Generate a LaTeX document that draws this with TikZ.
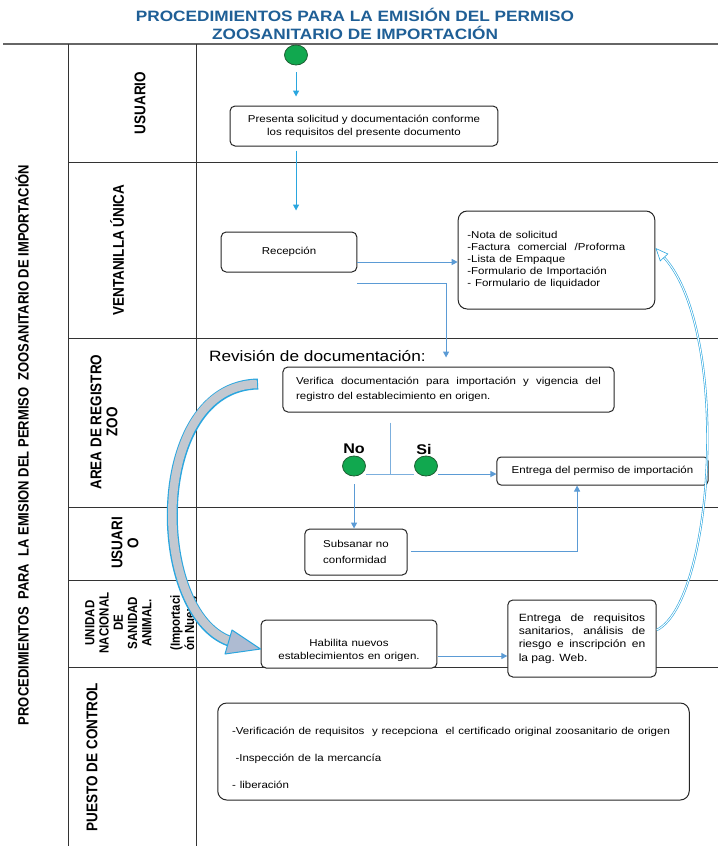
\documentclass[tikz,border=0pt]{standalone}
\usepackage{fontspec}
\setmainfont{Liberation Sans}
\usetikzlibrary{arrows.meta}
\definecolor{ttl}{HTML}{1F5F96}
\definecolor{cyanl}{HTML}{2AA6DF}
\definecolor{steel}{HTML}{5B9BD5}
\definecolor{grn}{HTML}{11A84F}
\definecolor{dgrn}{HTML}{1E5E33}
\definecolor{bandgray}{HTML}{C3C8D0}
\definecolor{headgray}{HTML}{AEBBD2}
\newcommand{\fs}[2]{\fontsize{#1}{#2}\selectfont\hyphenpenalty=10000\exhyphenpenalty=10000}
\begin{document}
\begin{tikzpicture}[x=0.869565pt, y=-1pt, xscale=1.15,
  every node/.append style={transform shape},
  box/.style={draw=black!85, line width=1pt, rounded corners=5pt, fill=white, inner sep=0pt, align=center, font=\fs{10}{13}},
  lane/.style={rotate=90, align=center, font=\bfseries\fs{13.5}{14}},
  flow/.style={draw=steel, line width=1pt, -{Triangle[length=6pt,width=6pt]}},
  cflow/.style={draw=cyanl, line width=1pt, -{Triangle[length=6pt,width=6pt]}},
  greendot/.style={circle, fill=grn, draw=dgrn, line width=0.8pt, minimum size=20pt, inner sep=0pt},
  laneline/.style={draw=black!80, line width=0.8pt},
  thinl/.style={draw=steel!80, line width=0.6pt},
  curvy/.style={draw=cyanl, line width=0.6pt, double=white, double distance=1pt, -{Triangle[open,length=13pt,width=11pt]}},
]
\useasboundingbox (0,0) rectangle (720,846);
\fill[white] (0,0) rectangle (720,846);

% title
\node[font=\bfseries\fs{15}{18}, text=ttl] (t1) at (355,15) {PROCEDIMIENTOS PARA LA EMISIÓN DEL PERMISO};
\node[font=\bfseries\fs{15}{18}, text=ttl] (t2) at (355,33) {ZOOSANITARIO DE IMPORTACIÓN};

% lanes grid
\draw[draw=black!60, line width=2pt] (3,44) -- (718,44);
\draw[laneline] (68,44) -- (68,846);
\draw[laneline] (196,44) -- (196,846);
\foreach \yy in {162,338,507,580,667} \draw[laneline] (68,\yy) -- (718,\yy);

% lane labels
\node[lane, font=\bfseries\fs{13}{14}] (main) at (22,445) {PROCEDIMIENTOS\ \ PARA\ \ LA EMISION DEL PERMISO\ \ ZOOSANITARIO DE IMPORTACIÓN};
\node[lane] (l1) at (140,103) {USUARIO};
\node[lane] (l2) at (117,250) {VENTANILLA ÚNICA};
\node[lane] (l3) at (104,422) {AREA DE REGISTRO\\ZOO};
\node[lane] (l4) at (125,543) {USUARI\\O};
\node[lane, font=\bfseries\fs{11.5}{12.4}] (l5) at (141,623) {UNIDAD\\NACIONAL\\DE\\SANIDAD\\ANIMAL.\\[12.4pt](Importaci\\ón Nueva)};
\node[lane] (l6) at (92,757) {PUESTO DE CONTROL};

% nodes
\node[greendot] (start) at (296,55) {};
\node[box, minimum width=233pt, minimum height=40pt] (pres) at (364,126) {Presenta solicitud y documentación conforme\\los requisitos del presente documento};
\node[box, minimum width=118pt, minimum height=40pt] (rec) at (289,252) {Recepción};
\node[box, rounded corners=9pt, minimum width=171pt, minimum height=98pt, text width=155pt, align=left, font=\fs{10}{11.8}] (list) at (556.5,260) {-Nota de solicitud\\-Factura\ \ comercial\ \ /Proforma\\-Lista de Empaque\\-Formulario de Importación\\- Formulario de liquidador};
\node[anchor=west, font=\fs{15}{18}] (rev) at (205,356) {Revisión de documentación:};
\node[box, minimum width=288pt, minimum height=45pt, text width=265pt, align=justify, font=\fs{10}{15}] (ver) at (448.5,389.5) {Verifica documentación para importación y vigencia del registro del establecimiento en origen.};
\node[greendot] (no) at (354,466) {};
\node[greendot] (si) at (426,466) {};
\node[font=\bfseries\fs{14}{16}] (nol) at (354,449) {No};
\node[font=\bfseries\fs{14}{16}] (sil) at (424,449) {Si};
\node[box, rounded corners=4pt, minimum width=183.5pt, minimum height=28pt] (entp) at (602.5,471) {Entrega del permiso de importación};
\node[box, minimum width=89pt, minimum height=46pt, text width=57pt, align=left, font=\fs{10}{16}] (sub) at (356,552) {Subsanar\hfill no\\conformidad};
\node[box, minimum width=153pt, minimum height=48pt, text width=140pt, align=center] (hab) at (349,644) {\mbox{}\\[8pt]Habilita nuevos\\establecimientos en origen.};
\node[box, minimum width=129pt, minimum height=77pt, text width=110pt, align=justify, font=\fs{10.5}{13.3}] (req) at (582,638.5) {Entrega de requisitos sanitarios, análisis de riesgo e inscripción en la pag. Web.};
\node[box, rounded corners=9pt, minimum width=410pt, minimum height=97pt, text width=385pt, align=left, font=\fs{10}{27}] (pc) at (453.5,751.5) {\mbox{}\\[-7.5pt]-Verificación de requisitos\ \ y recepciona\ \ el certificado original zoosanitario de origen\\\hspace*{3pt}-Inspección de la mercancía\\- liberación};

% connectors
\coordinate (k1) at (446,283);
\coordinate (j) at (390,474);
\coordinate (k2) at (577,551);
\draw[cflow, shorten <=7pt, shorten >=9pt] (start.south) -- (start.south |- pres.north);
\draw[cflow, shorten <=4pt, shorten >=21pt] (pres.south -| start) -- (rec.north -| start);
\draw[flow] ([yshift=-10pt]rec.east) -- ([yshift=-10pt]rec.east -| list.west);
\draw[flow, shorten >=9pt] (rec.east |- k1) -- (k1) -- (k1 |- ver.north);
\draw[thinl, shorten <=10pt] (ver.south -| j) -- (j);
\draw[thinl] (no.east |- j) -- (si.west |- j);
\draw[flow] (si.east |- j) -- (j -| entp.west);
\draw[flow, shorten <=8pt] (no.south) -- (no.south |- sub.north);
\draw[flow, shorten <=3pt] (sub.east |- k2) -- (k2) -- (k2 |- entp.south);
\draw[flow] ([yshift=-12pt]hab.east) -- ([yshift=-12pt]hab.east -| req.west);
\draw[curvy] ([yshift=8.5pt]req.east) .. controls (715,600) and (730,330) .. ([yshift=12pt]list.east);

% big curved block arrow
\coordinate (b0) at (258,384);
\coordinate (b1) at (229,641);
\draw[cyanl, line width=11pt] (b0) .. controls (148,386) and (150,612) .. (b1);
\draw[bandgray, line width=8.5pt] ([xshift=-1pt]b0) .. controls (148,386) and (150,612) .. ([xshift=0.5pt]b1);
\draw[cyanl, line width=1pt, fill=headgray, line join=round] (232,630) -- (hab.west |- 0,649) -- (225,654) -- cycle;
\end{tikzpicture}
\end{document}
